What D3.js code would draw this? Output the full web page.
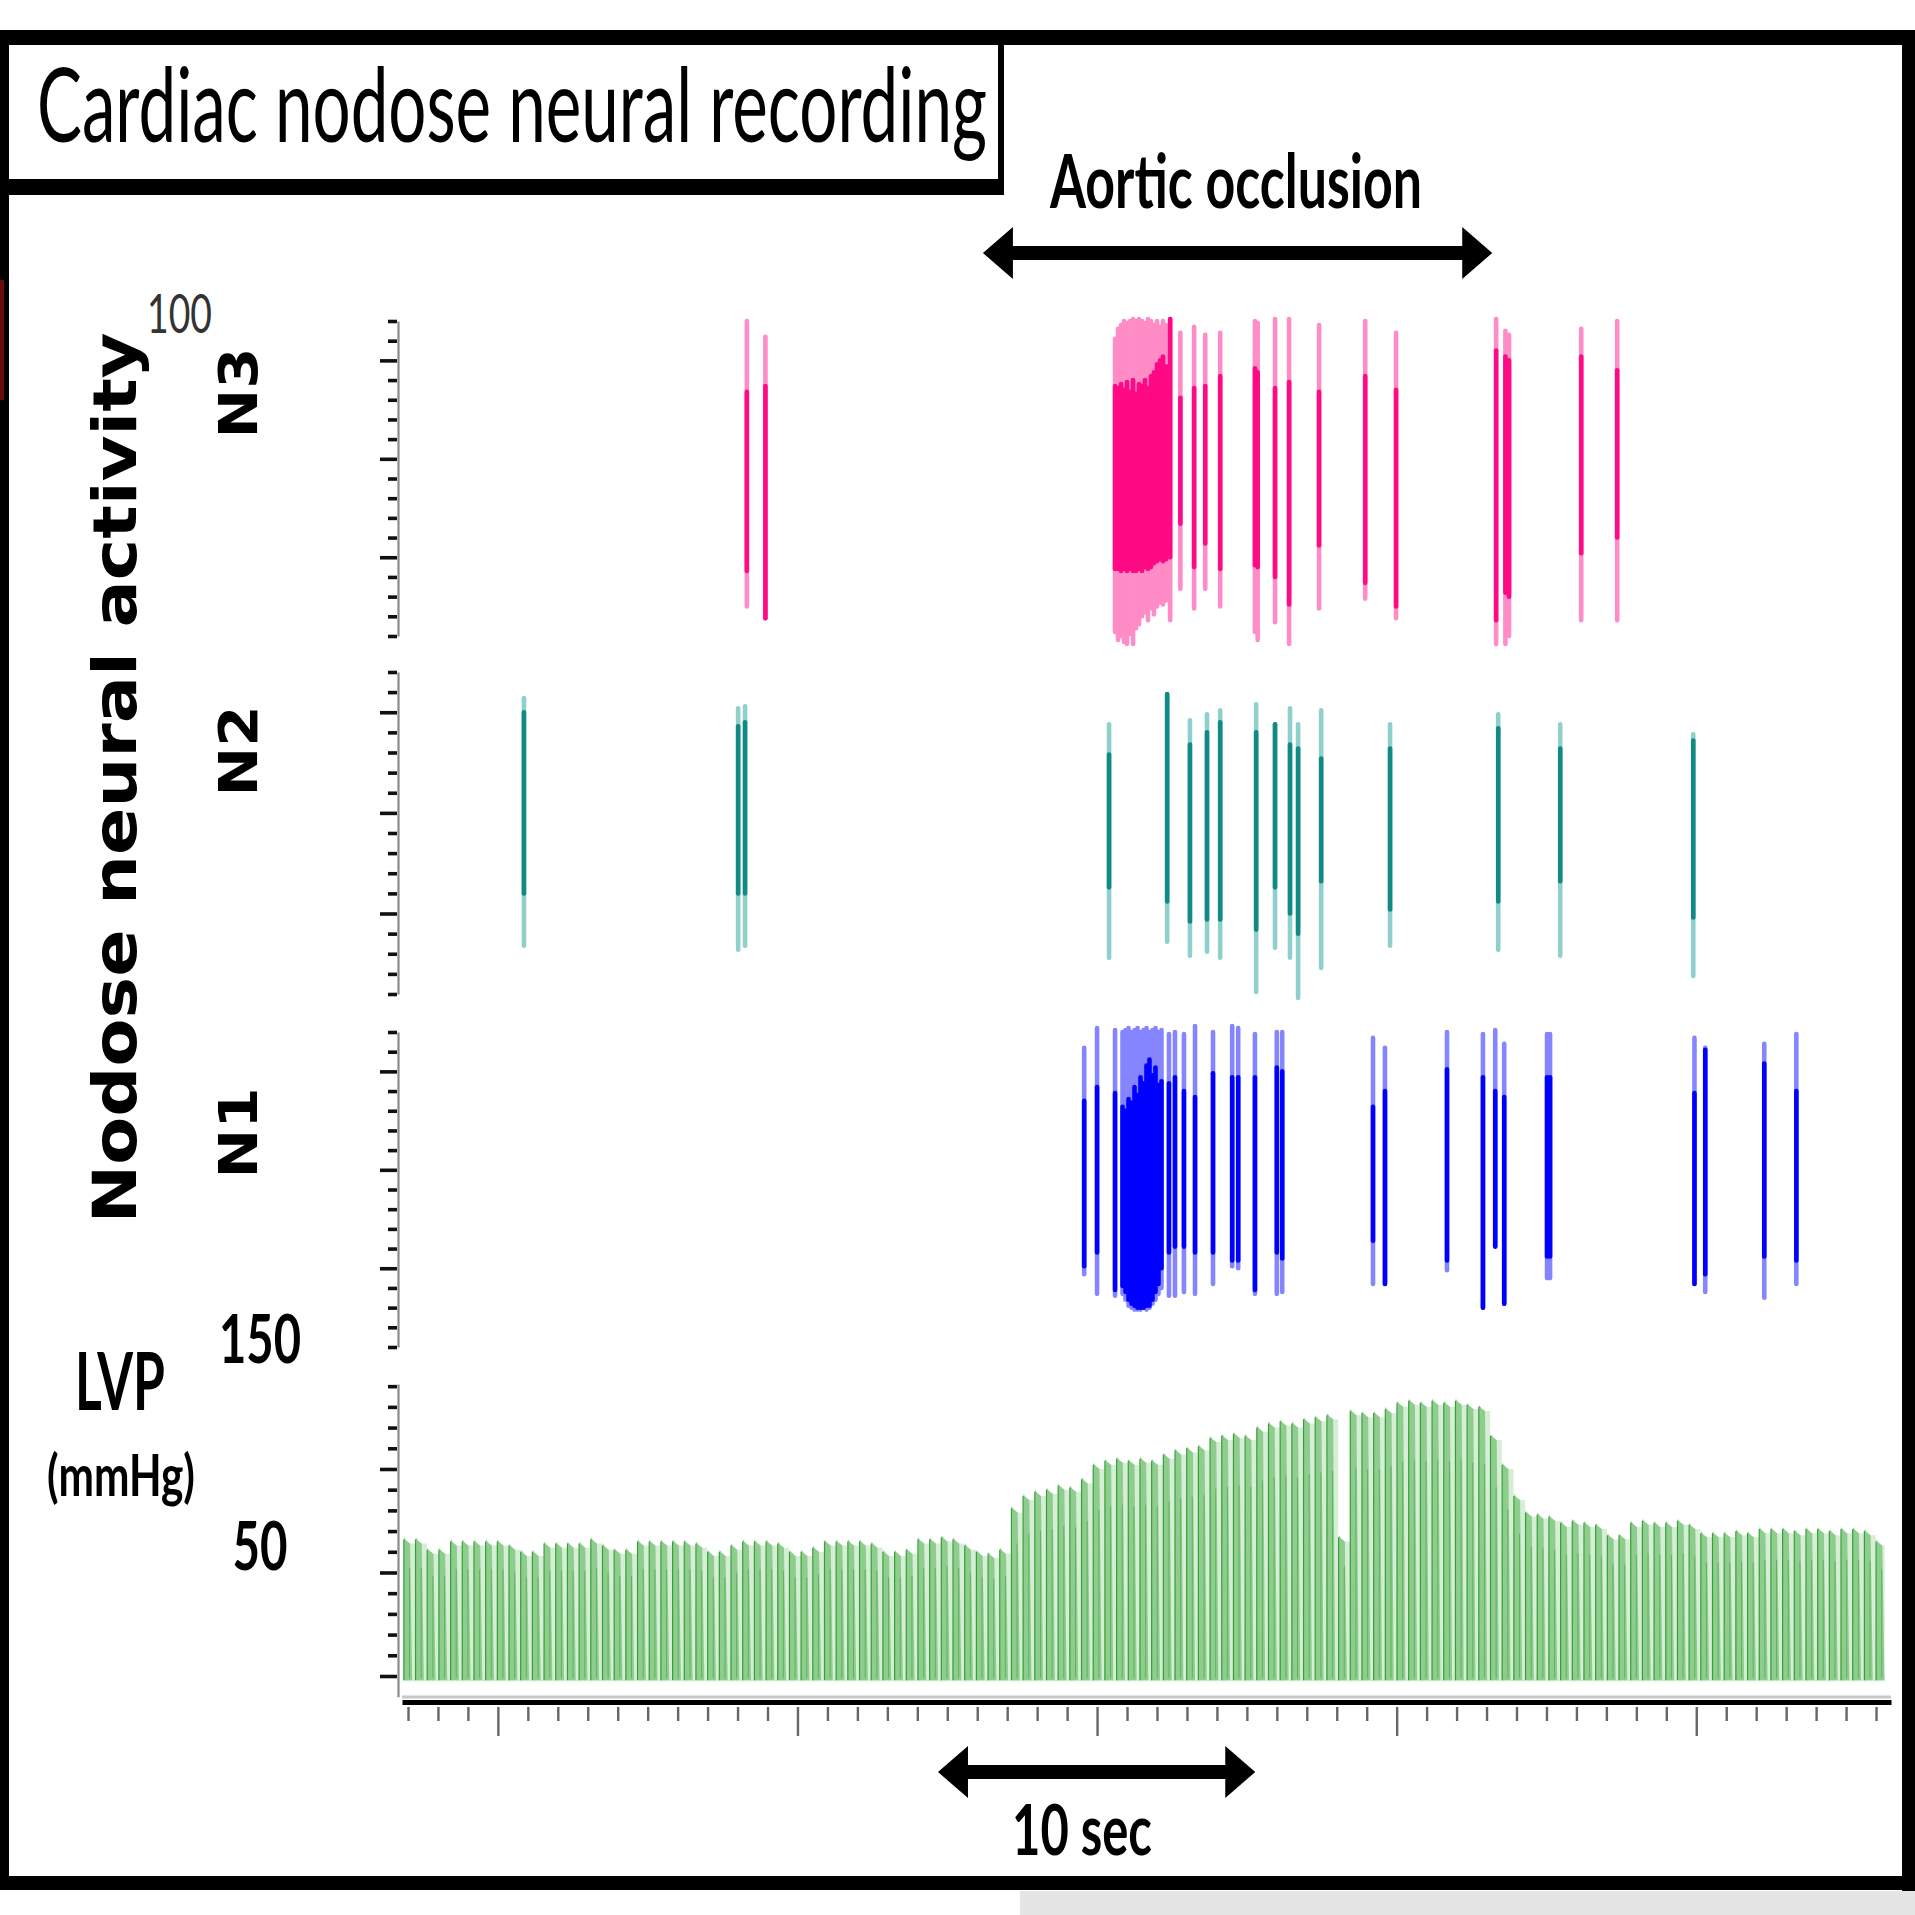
<!DOCTYPE html>
<html><head><meta charset="utf-8">
<script src="https://cdn.jsdelivr.net/npm/d3@7"></script>
<style>body{margin:0;background:#fff}svg{display:block}</style>
</head><body>
<svg id="c" width="1915" height="1915"></svg>
<script>
// ---------- data ----------
const timeDomain = [6.8, 56.5];            // seconds
const timeTicks = d3.range(7, 57, 1);        // 1-s minor ticks, 10-s major
const unitDomain = [-90, 70];               // neural amplitude (a.u.)
const unitTicks = d3.range(-90, 71, 10);
const panelNames = ["N3", "N2", "N1"];
// spikes: [time, lightTop, lightBottom, darkTop, darkBottom]
const n3Spikes = [
  [18.31,70,-75,34,-57],[18.93,62,-81,37,-81],
  [30.60,61,-88,37,-56],[30.70,66,-92,36,-56],[30.80,68,-90,38,-57],[30.90,70,-93,35,-56],
  [31.00,69,-94,39,-57],[31.10,70,-89,34,-56],[31.20,71,-94,40,-57],[31.30,70,-86,33,-57],
  [31.40,71,-84,38,-56],[31.50,70,-80,37,-57],[31.60,69,-78,40,-55],[31.70,71,-82,36,-56],
  [31.80,70,-76,42,-55],[31.90,68,-79,44,-53],[32.00,70,-75,48,-52],[32.10,67,-73,50,-51],
  [32.20,70,-74,52,-52],[32.30,68,-72,47,-51],
  [32.44,71,-82,71,-50],[32.78,64,-66,31,-33],[33.24,67,-76,36,-55],[33.61,63,-66,37,-43],
  [34.11,64,-75,42,-56],[35.27,70,-88,46,-54],[35.36,69,-92,44,-55],[35.94,71,-83,36,-60],
  [36.41,71,-94,39,-74],[37.41,68,-76,34,-44],[38.95,70,-71,42,-63],[39.98,64,-81,35,-75],
  [43.32,71,-94,55,-82],[43.63,65,-94,52,-68],[43.75,63,-90,50,-70],[46.16,66,-82,52,-48],
  [47.36,70,-82,45,-40]
];
const n2Spikes = [
  [10.87,57,-66,50,-40],[18.02,52,-68,43,-40],[18.25,53,-66,45,-40],[30.40,44,-72,29,-37],
  [32.34,59,-64,59,-44],[33.10,46,-71,34,-54],[33.67,49,-69,40,-53],[34.11,51,-72,45,-53],
  [35.31,54,-89,40,-58],[35.94,44,-67,44,-37],[36.44,52,-72,34,-50],[36.71,44,-92,32,-60],
  [37.48,51,-77,27,-34],[39.78,44,-66,32,-48],[43.39,49,-68,42,-44],[45.46,44,-71,32,-34],
  [49.90,39,-81,36,-52]
];
const n1Spikes = [
  [29.57,62,-53,35,-49],[30.00,72,-63,42,-42],[30.60,71,-64,39,-61],
  [30.85,70,-63,32,-59],[30.95,71,-66,30,-62],[31.05,72,-69,36,-66],[31.15,70,-70,34,-68],
  [31.25,71,-71,42,-69],[31.35,72,-71,38,-70],[31.45,70,-71,47,-70],[31.55,71,-70,44,-70],
  [31.65,72,-71,53,-69],[31.75,70,-70,56,-69],[31.85,71,-68,48,-66],[31.95,72,-66,52,-62],
  [32.05,70,-63,43,-58],[32.15,71,-60,45,-50],
  [32.40,69,-64,44,-42],[32.60,70,-64,47,-39],[32.90,69,-62,40,-39],[33.27,73,-63,37,-42],
  [33.87,70,-58,49,-42],[34.51,73,-49,47,-46],[34.71,72,-50,47,-46],[35.27,69,-63,47,-61],
  [36.00,70,-63,52,-42],[36.18,70,-62,50,-45],[39.21,67,-58,32,-36],[39.61,62,-58,40,-58],
  [41.68,70,-51,51,-46],[42.88,69,-70,47,-70],[43.29,71,-39,40,-39],[43.59,64,-68,37,-68],
  [45.02,69,-55,47,-44],[45.12,69,-55,47,-44],[49.94,67,-58,39,-58],[50.30,62,-62,61,-53],
  [52.27,64,-65,54,-44],[53.34,69,-58,40,-46]
];
// LVP (mmHg): systolic peak of each beat
const lvpStart = 6.85, lvpInterval = 0.39, lvpDiastolic = -2;
const lvpPeaks = [
  67,67,62,62,66,66,66,66,66,64,61,61,65,65,65,65,67,64,62,62,
  66,66,66,66,66,65,61,61,64,66,66,66,65,61,61,63,66,66,66,66,
  65,61,61,62,67,67,68,67,64,61,60,62,82,88,90,91,93,92,96,103,
  105,106,105,106,105,108,110,111,112,116,117,118,117,121,123,124,123,125,126,127,
  68,129,128,128,130,133,134,133,134,133,134,132,131,117,103,88,80,79,78,75,
  76,75,74,69,69,75,76,75,75,76,74,70,70,70,71,70,72,72,72,71,
  72,72,71,72,72,71,66
];
const lvpDomain = [-10, 141];
const lvpTicks = d3.range(0, 141, 10);
const lvpLabels = [50, 150];
const occlusion = [26.19, 43.19];
const scaleBar = [24.69, 35.28];

// ---------- helpers ----------
const svg = d3.select("#c");
function fitText(str, opts) {
  const t = svg.append("text").text(str)
    .attr("font-family", opts.family).attr("font-size", opts.size)
    .attr("font-weight", opts.weight || 400).attr("fill", opts.fill || "#000")
    .attr("text-anchor", opts.anchor || "start");
  const w = t.node().getComputedTextLength();
  const sx = opts.width / w;
  t.attr("transform", `translate(${opts.x},${opts.y})` + (opts.rotate ? ` rotate(${opts.rotate})` : "") + ` scale(${sx},1)`);
  return t;
}

// ---------- scales ----------
const x = d3.scaleLinear().domain(timeDomain).range([402, 1891]);
const panelRanges = {N3:[636,321], N2:[994,672], N1:[1347,1032]};
const yP = {};
panelNames.forEach(n => yP[n] = d3.scaleLinear().domain(unitDomain).range(panelRanges[n]));
const yL = d3.scaleLinear().domain(lvpDomain).range([1696.7, 1384.1]);

// ---------- frame ----------
const frame = svg.append("g").attr("fill", "#000");
frame.append("rect").attr("x",1020).attr("y",1891).attr("width",895).attr("height",24).attr("fill","#e5e5e5");
frame.append("rect").attr("x",0).attr("y",30).attr("width",1915).attr("height",15);
frame.append("rect").attr("x",0).attr("y",30).attr("width",9).attr("height",1860);
frame.append("rect").attr("x",0).attr("y",280).attr("width",4).attr("height",120).attr("fill","#6a0a0a");
frame.append("rect").attr("x",1902).attr("y",30).attr("width",13).attr("height",1861);
frame.append("rect").attr("x",0).attr("y",1876).attr("width",1915).attr("height",14);
frame.append("rect").attr("x",0).attr("y",179).attr("width",1004).attr("height",16);
frame.append("rect").attr("x",998).attr("y",30).attr("width",6).attr("height",165);

fitText("Cardiac nodose neural recording",
  {family:"Lato, 'Open Sans', sans-serif", size:103, x:37, y:142, width:950});
fitText("Aortic occlusion",
  {family:"Lato, sans-serif", weight:700, size:74, x:1050, y:208, width:372});

function dblArrow(t0, t1, cy) {
  const x0 = x(t0), x1 = x(t1), hl = 30, hh = 26, sh = 7;
  const p = [[x0,cy],[x0+hl,cy-hh],[x0+hl,cy-sh],[x1-hl,cy-sh],[x1-hl,cy-hh],[x1,cy],
             [x1-hl,cy+hh],[x1-hl,cy+sh],[x0+hl,cy+sh],[x0+hl,cy+hh]];
  svg.append("path").attr("d", d3.line()(p) + "Z").attr("fill", "#000");
}
dblArrow(occlusion[0], occlusion[1], 253);
dblArrow(scaleBar[0], scaleBar[1], 1772);

fitText("10 sec", {family:"Lato, sans-serif", weight:700, size:70, x:1012, y:1855, width:140});

// ---------- left labels ----------
fitText("Nodose neural activity", {family:"'DejaVu Sans', Verdana, sans-serif", weight:700,
  size:60, x:136, y:778, rotate:-90, anchor:"middle", width:891});
fitText("100", {family:"Lato, sans-serif", size:54, x:147, y:333, width:65, fill:"#333"});
const nameY = {N3:393, N2:751, N1:1133};
panelNames.forEach(n => fitText(n, {family:"'DejaVu Sans', sans-serif", weight:700, size:53,
  x:257, y:nameY[n], rotate:-90, anchor:"middle", width:91}));
fitText("LVP", {family:"Lato, sans-serif", weight:700, size:80, x:120, y:1410, anchor:"middle", width:90});
fitText("(mmHg)", {family:"Lato, sans-serif", weight:700, size:57, x:121, y:1496, anchor:"middle", width:148});
lvpLabels.forEach(v => fitText(String(v), {family:"Lato, sans-serif", weight:700, size:66,
  x:260, y:yL(v)-2, anchor:"middle", width: v >= 100 ? 82 : 55}));

// ---------- neural panels ----------
const colors = {
  N3: {light:"#ff8cc6", dark:"#ff0a85"},
  N2: {light:"#90d0cc", dark:"#0f8a84"},
  N1: {light:"#8585ff", dark:"#0000ff"}
};
const spikeData = {N3:n3Spikes, N2:n2Spikes, N1:n1Spikes};
function styleLeftAxis(g, major) {
  g.select(".domain").attr("stroke","#8a8a8a").attr("stroke-width",2.2);
  g.selectAll(".tick line").attr("stroke","#111").attr("stroke-width",3.6)
    .attr("x1", -1).attr("x2", d => major(d) ? -18 : -10);
}
panelNames.forEach(n => {
  const y = yP[n];
  const g = svg.append("g").attr("transform","translate(398,0)")
    .call(d3.axisLeft(y).tickValues(unitTicks).tickSize(8).tickSizeOuter(0).tickFormat(""));
  styleLeftAxis(g, d => d % 50 === 0);
  const sg = svg.append("g").attr("stroke-width",4.6).attr("stroke-linecap","round");
  sg.selectAll("line.l").data(spikeData[n]).join("line").attr("class","l")
    .attr("x1",d=>x(d[0])).attr("x2",d=>x(d[0]))
    .attr("y1",d=>y(d[1])).attr("y2",d=>y(d[2])).attr("stroke",colors[n].light);
  sg.selectAll("line.d").data(spikeData[n]).join("line").attr("class","d")
    .attr("x1",d=>x(d[0])).attr("x2",d=>x(d[0]))
    .attr("y1",d=>y(d[3])).attr("y2",d=>y(d[4])).attr("stroke",colors[n].dark);
});

// ---------- LVP ----------
const gl = svg.append("g").attr("transform","translate(398,0)")
  .call(d3.axisLeft(yL).tickValues(lvpTicks).tickSize(8).tickSizeOuter(0).tickFormat(""));
styleLeftAxis(gl, d => d % 50 === 0);

const beats = lvpPeaks.map((p,i) => ({t: lvpStart + i*lvpInterval, p}));
const env = beats.concat([{t: beats[beats.length-1].t + 0.3, p: beats[beats.length-1].p}]);
svg.append("path").datum(env)
  .attr("d", d3.area().x(d=>x(d.t)).y0(yL(lvpDiastolic)+1).y1(d=>yL(d.p-3)).curve(d3.curveStepAfter))
  .attr("fill","#d6eed6");
const beatLine = d3.line().x(d=>x(d[0])).y(d=>yL(d[1]));
svg.append("g").selectAll("path").data(beats).join("path")
  .attr("d", d => beatLine([[d.t,lvpDiastolic],[d.t+0.02,d.p],[d.t+0.09,d.p-1.5],[d.t+0.22,d.p-3],[d.t+0.29,lvpDiastolic]]) + "Z")
  .attr("fill","#8fcd8f");
const darkG = svg.append("g").attr("stroke","#35a035");
darkG.selectAll("line.up").data(beats).join("line").attr("class","up")
  .attr("x1",d=>x(d.t+0.012)).attr("x2",d=>x(d.t+0.012))
  .attr("y1",yL(lvpDiastolic)).attr("y2",d=>yL(d.p-1))
  .attr("stroke-width",1.2);
darkG.selectAll("line.dn").data(beats).join("line").attr("class","dn")
  .attr("x1",d=>x(d.t+0.2)).attr("x2",d=>x(d.t+0.2))
  .attr("y1",yL(lvpDiastolic+1)).attr("y2",d=>yL(d.p*0.78))
  .attr("stroke-width",1).attr("stroke-opacity",0.55);

// ---------- time axis ----------
svg.append("line").attr("x1",x(timeDomain[0])).attr("x2",x(timeDomain[1]))
  .attr("y1",1697).attr("y2",1697).attr("stroke","#c8c8c8").attr("stroke-width",3);
const gx = svg.append("g").attr("transform","translate(0,1702)")
  .call(d3.axisBottom(x).tickValues(timeTicks).tickSize(18).tickSizeOuter(0).tickFormat(""));
gx.select(".domain").attr("stroke","#000").attr("stroke-width",5);
gx.selectAll(".tick line").attr("stroke","#666").attr("stroke-width",2.4)
  .attr("y1",5).attr("y2", d => d % 10 === 0 ? 34 : 19);
</script>
</body></html>
